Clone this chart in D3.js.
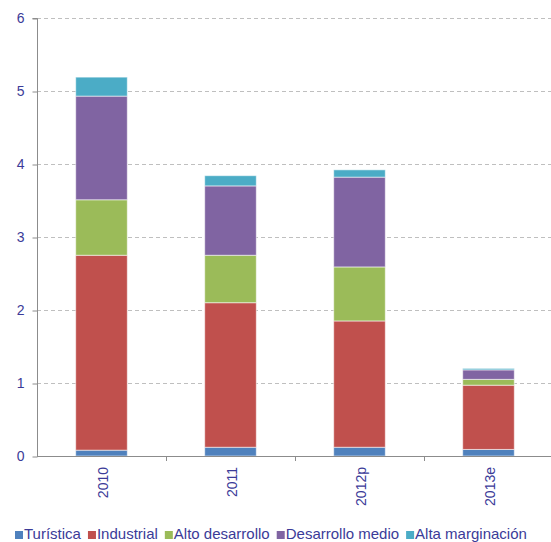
<!DOCTYPE html>
<html>
<head>
<meta charset="utf-8">
<script src="https://cdn.jsdelivr.net/npm/d3@7"></script>
<style>
  body { margin: 0; background: #fff; }
  svg text { font-family: "Liberation Sans", Arial, sans-serif; fill: #3b3b98; }
</style>
</head>
<body>
<svg id="chart" width="551" height="542"></svg>
<script>
// stacked bars, one series per zone type
var years = ["2010", "2011", "2012p", "2013e"];
var series = ["Turística", "Industrial", "Alto desarrollo", "Desarrollo medio", "Alta marginación"];
var turistica = [0.08, 0.12, 0.12, 0.09];
var industrial = [2.67, 1.98, 1.73, 0.88];
var altoDesarrollo = [0.76, 0.65, 0.74, 0.08];
var desarrolloMedio = [1.42, 0.95, 1.23, 0.13];
var altaMarginacion = [0.26, 0.14, 0.10, 0.02];
var yTicks = [0, 1, 2, 3, 4, 5, 6];
var colors = ["#4f81bd", "#c0504d", "#9bbb59", "#8064a2", "#4bacc6"];

var svg = d3.select("#chart");
var x0 = 37, yBase = 456, yTop = 18;

var values = [turistica, industrial, altoDesarrollo, desarrolloMedio, altaMarginacion];
var rows = years.map(function(y, i) {
  var r = {year: y};
  series.forEach(function(s, k) { r[s] = values[k][i]; });
  return r;
});
var stacked = d3.stack().keys(series)(rows);

var x = d3.scaleBand().domain(years).range([x0, 553]).paddingInner(0.6).paddingOuter(0.3);
var y = d3.scaleLinear().domain([0, 6]).range([yBase, yTop]);

// gridlines
svg.append("g").selectAll("line").data(yTicks.slice(1)).enter().append("line")
  .attr("x1", x0).attr("x2", 551)
  .attr("y1", function(d) { return Math.round(y(d)) + 0.5; })
  .attr("y2", function(d) { return Math.round(y(d)) + 0.5; })
  .attr("stroke", "#bfbfbf").attr("stroke-dasharray", "4,3");

// bars
svg.append("g").selectAll("g").data(stacked).enter().append("g")
  .attr("fill", function(d, i) { return colors[i]; })
  .selectAll("rect").data(function(d) { return d; }).enter().append("rect")
  .attr("x", function(d) { return x(d.data.year); })
  .attr("width", x.bandwidth())
  .attr("y", function(d) { return y(d[1]); })
  .attr("height", function(d) { return y(d[0]) - y(d[1]); })
  .attr("stroke", "rgba(255,255,255,0.55)").attr("stroke-width", 1);

// y axis
var yAxis = d3.axisLeft(y).tickValues(yTicks).tickSize(5).tickPadding(8).tickFormat(d3.format("d"));
var gy = svg.append("g").attr("transform", "translate(" + (x0 + 0.5) + ",0.5)").call(yAxis);
gy.selectAll("path, line").attr("stroke", "#8c8c8c");
gy.select(".domain").attr("d", "M-5," + yTop + "H0V" + yBase);
gy.selectAll("text").style("font-size", "14px").attr("fill", "#3b3b98");

// x axis line + ticks between categories
svg.append("line").attr("x1", x0).attr("x2", 551).attr("y1", yBase + 0.5).attr("y2", yBase + 0.5)
  .attr("stroke", "#8c8c8c");
var step = x.step();
svg.append("g").selectAll("line").data(years.slice(1)).enter().append("line")
  .attr("x1", function(d) { return Math.round(x(d) - (step - x.bandwidth()) / 2) + 0.5; })
  .attr("x2", function(d) { return Math.round(x(d) - (step - x.bandwidth()) / 2) + 0.5; })
  .attr("y1", yBase).attr("y2", yBase + 5)
  .attr("stroke", "#8c8c8c");

// rotated category labels
svg.append("g").selectAll("text").data(years).enter().append("text")
  .attr("transform", function(d) {
    return "translate(" + (x(d) + x.bandwidth() / 2 + 6) + "," + (yBase + 11) + ") rotate(-90)";
  })
  .attr("text-anchor", "end")
  .style("font-size", "14px")
  .text(function(d) { return d; });

// legend
var lg = svg.append("g").attr("transform", "translate(15,539)");
var lx = 0;
series.forEach(function(s, i) {
  lg.append("rect").attr("x", lx).attr("y", -8).attr("width", 8).attr("height", 8).attr("fill", colors[i]);
  var t = lg.append("text").attr("x", lx + 9).attr("y", 0).style("font-size", "15px").text(s);
  lx += 9 + t.node().getComputedTextLength() + 7;
});
</script>
</body>
</html>
